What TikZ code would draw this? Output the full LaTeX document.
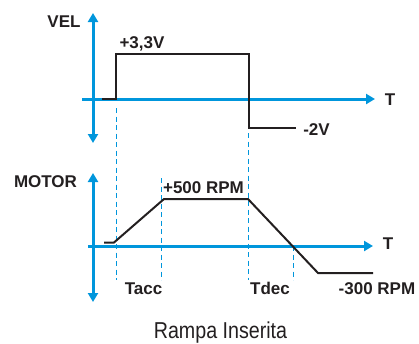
\documentclass[tikz,border=0pt]{standalone}
\usepackage{fontspec}
\setmainfont{Liberation Sans}
\usetikzlibrary{arrows.meta}
\definecolor{axisblue}{RGB}{0,150,220}
\definecolor{ink}{RGB}{35,31,32}
\begin{document}
\begin{tikzpicture}[x=1pt,y=-1pt,
  axis/.style={draw=axisblue,line width=3pt},
  dblaxis/.style={axis,{Triangle[length=9pt,width=10pt]}-{Triangle[length=9pt,width=10pt]}},
  oneaxis/.style={axis,-{Triangle[length=9pt,width=10pt]}},
  signal/.style={draw=ink,line width=2pt,line join=miter},
  guide/.style={draw=axisblue,line width=1pt,dash pattern=on 5pt off 3.5pt},
  lbl/.style={font=\fontsize{17}{17}\selectfont\bfseries,text=ink,inner sep=0pt,anchor=base}]
\useasboundingbox (0,0) rectangle (419,343);
% guides
\coordinate (g1a) at (116,108); \coordinate (g1b) at (116,280);
\coordinate (g2a) at (161.5,178); \coordinate (g2b) at (161.5,280);
\coordinate (g3a) at (248.5,133); \coordinate (g3b) at (248.5,280);
\coordinate (g4a) at (293,246); \coordinate (g4b) at (293,280);
\draw[guide] (g1a) -- (g1b);
\draw[guide] (g2a) -- (g2b);
\draw[guide] (g3a) -- (g3b);
\draw[guide] (g4a) -- (g4b);
% top axes
\coordinate (vtop1) at (93,13); \coordinate (vbot1) at (93,143);
\coordinate (hl1) at (82,99); \coordinate (hr1) at (375,99);
\draw[dblaxis] (vbot1) -- (vtop1);
\draw[oneaxis] (hl1) -- (hr1);
% bottom axes
\coordinate (vtop2) at (93,173); \coordinate (vbot2) at (93,302);
\coordinate (hl2) at (88,246); \coordinate (hr2) at (373,246);
\draw[dblaxis] (vbot2) -- (vtop2);
\draw[oneaxis] (hl2) -- (hr2);
% top signal
\coordinate (s0) at (102,98.5); \coordinate (s1) at (116,98.5);
\coordinate (s2) at (116,54); \coordinate (s3) at (249,54);
\coordinate (s4) at (249,128); \coordinate (s5) at (296,128);
\draw[signal] (s0) -- (s1) -- (s2) -- (s3) -- (s4) -- (s5);
% bottom signal
\coordinate (m0) at (104,242.5); \coordinate (m1) at (114,242.5);
\coordinate (m2) at (164,199); \coordinate (m3) at (248,199);
\coordinate (m4) at (318,273); \coordinate (m5) at (373,273);
\draw[signal] (m0) -- (m1) -- (m2) -- (m3) -- (m4) -- (m5);
% labels
\node[lbl] (vel) at (64,27) {VEL};
\node[lbl] (v33) at (142,48) {+3,3V};
\node[lbl] (v2) at (316.5,135) {-2V};
\node[lbl] (t1) at (390,105) {T};
\node[lbl] (motor) at (45.5,187) {MOTOR};
\node[lbl] (rpm500) at (203.5,193) {+500 RPM};
\node[lbl] (t2) at (388,249) {T};
\node[lbl] (tacc) at (143.5,294) {Tacc};
\node[lbl] (tdec) at (270,294) {Tdec};
\node[lbl] (rpm300) at (377,294.5) {-300 RPM};
\node[text=ink,inner sep=0pt,anchor=base] (cap) at (220.5,338) {\scalebox{0.855}[1]{\fontsize{23}{23}\selectfont Rampa Inserita}};
\end{tikzpicture}
\end{document}
